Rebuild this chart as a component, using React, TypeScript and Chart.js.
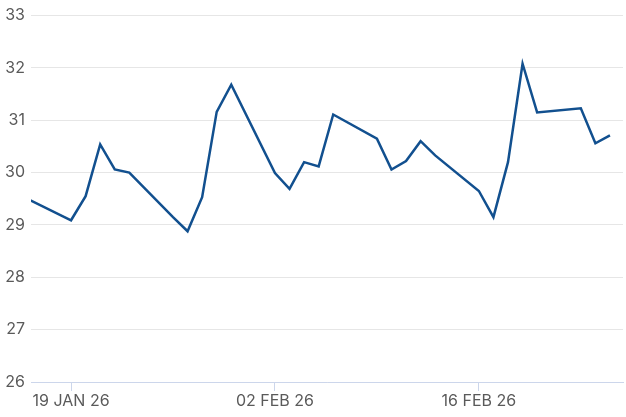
import React, { useEffect, useRef } from "react";
import { Chart, registerables } from "chart.js";

Chart.register(...registerables);

// Trading dates (2026) and values
const dates: string[] = [
  "2026-01-16", "2026-01-19", "2026-01-20", "2026-01-21", "2026-01-22", "2026-01-23",
  "2026-01-26", "2026-01-27", "2026-01-28", "2026-01-29", "2026-01-30",
  "2026-02-02", "2026-02-03", "2026-02-04", "2026-02-05", "2026-02-06",
  "2026-02-09", "2026-02-10", "2026-02-11", "2026-02-12", "2026-02-13",
  "2026-02-16", "2026-02-17", "2026-02-18", "2026-02-19", "2026-02-20",
  "2026-02-23", "2026-02-24", "2026-02-25",
];
const values: number[] = [
  29.5, 29.09, 29.55, 30.54, 30.06, 30.0,
  29.15, 28.88, 29.53, 31.16, 31.68,
  29.99, 29.69, 30.2, 30.12, 31.11,
  30.65, 30.06, 30.22, 30.6, 30.33,
  29.65, 29.15, 30.2, 32.08, 31.15,
  31.23, 30.56, 30.71,
];
const tickDates: string[] = ["2026-01-19", "2026-02-02", "2026-02-16"];
const yMin = 26;
const yMax = 33;
const xRangeStart = "2026-01-16T06:00:00Z";
const xRangeEnd = "2026-02-25T21:30:00Z";

const MONTHS = ["JAN", "FEB", "MAR", "APR", "MAY", "JUN", "JUL", "AUG", "SEP", "OCT", "NOV", "DEC"];
const DAY = 86400000;
const toDay = (s: string) => Date.parse(s.length === 10 ? s + "T00:00:00Z" : s) / DAY;
const fmt = (d: number) => {
  const dt = new Date(Math.round(d) * DAY);
  const dd = String(dt.getUTCDate()).padStart(2, "0");
  const yy = String(dt.getUTCFullYear() % 100).padStart(2, "0");
  return `${dd} ${MONTHS[dt.getUTCMonth()]} ${yy}`;
};

export default function App() {
  const ref = useRef<HTMLCanvasElement | null>(null);
  useEffect(() => {
    document.body.style.margin = "0";
    const ctx = ref.current!;
    const font = { family: "Inter, 'Noto Sans', sans-serif", size: 16 };
    const chart = new Chart(ctx, {
      type: "line",
      data: {
        datasets: [
          {
            data: dates.map((d, i) => ({ x: toDay(d), y: values[i] })),
            borderColor: "#12508f",
            borderWidth: 2.5,
            pointRadius: 0,
            tension: 0,
            fill: false,
          },
        ],
      },
      options: {
        animation: false,
        responsive: false,
        maintainAspectRatio: false,
        layout: { padding: { top: 15, right: 3, left: 0, bottom: 0 } },
        plugins: { legend: { display: false }, tooltip: { enabled: false } },
        scales: {
          x: {
            type: "linear",
            min: toDay(xRangeStart),
            max: toDay(xRangeEnd),
            afterBuildTicks: (scale: any) => {
              scale.ticks = tickDates.map((d) => ({ value: toDay(d) }));
            },
            afterFit: (scale: any) => {
              scale.height = 35;
            },
            grid: {
              drawOnChartArea: false,
              drawTicks: true,
              tickLength: 9,
              color: "#ccd6eb",
            },
            border: { display: true, color: "#ccd6eb", width: 1 },
            ticks: {
              autoSkip: false,
              maxRotation: 0,
              padding: 1,
              color: "#5a5a5a",
              font,
              callback: (v: any) => fmt(Number(v)),
            },
          },
          y: {
            min: yMin,
            max: yMax,
            afterFit: (scale: any) => {
              scale.width = 31;
            },
            grid: { color: "#e6e6e6", drawTicks: false, lineWidth: 1 },
            border: { display: false },
            ticks: {
              stepSize: 1,
              padding: 6,
              color: "#5a5a5a",
              font,
            },
          },
        },
      },
    });
    return () => chart.destroy();
  }, []);
  return (
    <div style={{ position: "absolute", left: 0, top: 0, width: 626, height: 417 }}>
      <canvas ref={ref} width={626} height={417} style={{ width: 626, height: 417 }} />
    </div>
  );
}
